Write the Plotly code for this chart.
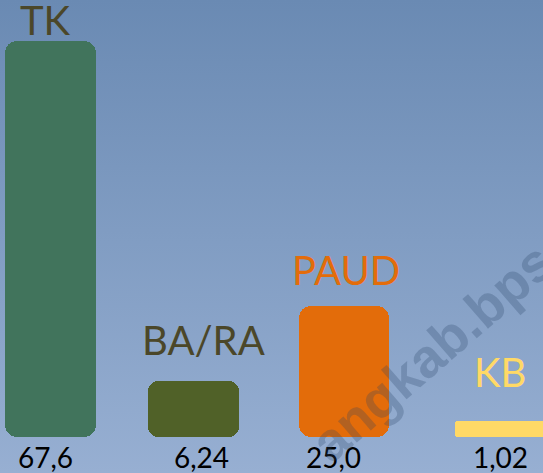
import base64
import plotly.graph_objects as go

# ---- data ----
categories = ["TK", "BA/RA", "PAUD", "KB"]
value_labels = ["67,6", "6,24", "25,0", "1,02"]          # printed values
bar_heights = [67.6, 9.6, 22.4, 2.7]                      # drawn bar lengths (infographic units)

# ---- style ----
bar_colors = ["#41745C", "#506128", "#E36C0A", "#FFD966"]
label_colors = ["#4B4729", "#4B4729", "#E36C0A", "#FFD966"]
corner_r = [12, 10, 12, 3]
bar_offset = [-0.289, -0.329, -0.315, -0.268]
bar_width = [0.611, 0.611, 0.605, 0.65]
label_dy = [-5, 15, 10, 23]
label_dx = [-3, 6, 0, 5]
value_dx = [-3, 4, -13, 5]
FONT = "Lato, 'Open Sans', sans-serif"

svg = ("<svg xmlns='http://www.w3.org/2000/svg' width='100' height='100' preserveAspectRatio='none'>"
       "<defs><linearGradient id='g' x1='0' y1='0' x2='0' y2='1'>"
       "<stop offset='0' stop-color='#6A8AB3'/><stop offset='1' stop-color='#97AFD2'/>"
       "</linearGradient></defs><rect width='100' height='100' fill='url(#g)'/></svg>")
bg_uri = "data:image/svg+xml;base64," + base64.b64encode(svg.encode()).decode()

fig = go.Figure()
for i, cat in enumerate(categories):
    fig.add_trace(go.Bar(
        x=[cat], y=[bar_heights[i]], base=[0],
        marker=dict(color=bar_colors[i], cornerradius=corner_r[i], line=dict(width=0)),
        width=bar_width[i], offset=bar_offset[i], showlegend=False, hoverinfo="skip",
    ))

annotations = []
for i, cat in enumerate(categories):
    annotations.append(dict(
        x=cat, y=bar_heights[i], xref="x", yref="y", text=cat, showarrow=False,
        yanchor="bottom", xanchor="center", yshift=label_dy[i], xshift=label_dx[i],
        font=dict(family=FONT, size=40, color=label_colors[i]),
    ))
    annotations.append(dict(
        x=cat, y=0, xref="x", yref="y", text=value_labels[i], showarrow=False,
        yanchor="top", xanchor="center", yshift=-1, xshift=value_dx[i],
        font=dict(family=FONT, size=28, color="#000000"),
    ))

# faint watermark
annotations.append(dict(
    x=432 / 543, y=1 - 352 / 473, xref="paper", yref="paper", text="<b>angkab.bps</b>",
    showarrow=False, textangle=-41, xanchor="center", yanchor="middle",
    font=dict(family="Liberation Sans, Arial, sans-serif", size=54, color="rgba(40,65,100,0.26)"),
))

px_per_unit = 396 / 67.6
fig.update_layout(
    width=543, height=473,
    margin=dict(l=0, r=0, t=0, b=0),
    paper_bgcolor="#8099C2",
    plot_bgcolor="rgba(0,0,0,0)",
    barmode="overlay",
    bargap=0,
    xaxis=dict(type="category", categoryorder="array", categoryarray=categories,
               range=[-48 / 149, -48 / 149 + 543 / 149], visible=False, fixedrange=True),
    yaxis=dict(range=[-36 / px_per_unit, 437 / px_per_unit], visible=False, fixedrange=True),
    images=[dict(source=bg_uri, xref="paper", yref="paper", x=0, y=1, sizex=1, sizey=1,
                 xanchor="left", yanchor="top", sizing="stretch", layer="below")],
    annotations=annotations,
)

fig.write_html("out.html", config={"displayModeBar": False},
               post_script="document.body.style.margin='0';document.body.style.overflow='hidden';")
